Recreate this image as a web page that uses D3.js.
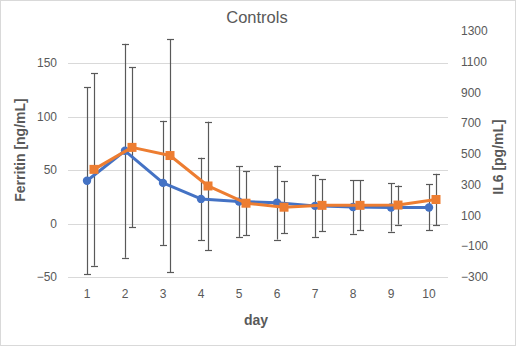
<!DOCTYPE html>
<html>
<head>
<meta charset="utf-8">
<script src="https://cdn.jsdelivr.net/npm/d3@7"></script>
<style>
  body { margin: 0; background: #fff; }
  svg text { font-family: "Liberation Sans", Arial, sans-serif; fill: #595959; }
</style>
</head>
<body>
<svg id="chart" width="516" height="346"></svg>
<script>
// chart data
var days = [1, 2, 3, 4, 5, 6, 7, 8, 9, 10];
var ferritin = [40, 68, 38, 23, 20.5, 19.5, 16.5, 15.5, 15, 15];
var ferritinErr = [87.5, 100, 58, 38.5, 33, 34.5, 29, 25, 22.5, 21.5];
var il6 = [400, 543, 490, 292, 180, 154, 166, 166, 168, 204];
var il6Err = [627, 521, 758, 418, 208, 168, 169, 163, 127, 167];
var leftTicks = [-50, 0, 50, 100, 150];
var rightTicks = [-300, -100, 100, 300, 500, 700, 900, 1100, 1300];

var margin = {top: 31, right: 68, bottom: 69, left: 68},
    width = 516, height = 346;

var svg = d3.select("svg#chart");

// outer chart border
svg.append("rect")
  .attr("x", 0.5).attr("y", 0.5)
  .attr("width", width - 1).attr("height", height - 1)
  .attr("fill", "#fff").attr("stroke", "#d9d9d9");

var x = d3.scalePoint().domain(days)
    .range([margin.left, width - margin.right]).padding(0.5);
// orange series sits a little to the right of the blue one
var x2 = d3.scalePoint().domain(days)
    .range([margin.left + 7, width - margin.right + 7]).padding(0.5);
var y = d3.scaleLinear().domain([-50, 180]).range([height - margin.bottom, margin.top]);
var y2 = d3.scaleLinear().domain([-300, 1300]).range([height - margin.bottom, margin.top]);

// gridlines
svg.append("g").selectAll("line").data(leftTicks).join("line")
  .attr("x1", margin.left).attr("x2", width - margin.right)
  .attr("y1", d => Math.round(y(d)) + 0.5).attr("y2", d => Math.round(y(d)) + 0.5)
  .attr("stroke", "#d9d9d9").attr("stroke-width", 1);

// left axis labels
svg.append("g").attr("font-size", 12).selectAll("text").data(leftTicks).join("text")
  .attr("x", 57).attr("y", d => y(d) + 4)
  .attr("text-anchor", "end")
  .text(d => d3.format("d")(d));

// right axis labels
svg.append("g").attr("font-size", 12).selectAll("text").data(rightTicks).join("text")
  .attr("x", 461).attr("y", d => y2(d) + 4)
  .attr("text-anchor", "start")
  .text(d => d3.format("d")(d));

// x labels
svg.append("g").attr("font-size", 12).selectAll("text").data(days).join("text")
  .attr("x", d => x(d)).attr("y", 298)
  .attr("text-anchor", "middle")
  .text(d => d);

// titles
svg.append("text").attr("x", 257).attr("y", 23).attr("text-anchor", "middle")
  .attr("font-size", 16.5).text("Controls");
svg.append("text").attr("x", 256).attr("y", 325).attr("text-anchor", "middle")
  .attr("font-size", 14).attr("font-weight", "bold").text("day");
svg.append("text").attr("transform", "translate(25,150) rotate(-90)")
  .attr("text-anchor", "middle").attr("font-size", 14).attr("font-weight", "bold")
  .text("Ferritin [ng/mL]");
svg.append("text").attr("transform", "translate(503,157) rotate(-90)")
  .attr("text-anchor", "middle").attr("font-size", 14).attr("font-weight", "bold")
  .text("IL6 [pg/mL]");

function errorBars(g, xs, ys, vals, errs) {
  var sel = g.selectAll("g").data(days).join("g");
  sel.append("line")
    .attr("x1", (d, i) => Math.round(xs(d)) + 0.5).attr("x2", (d, i) => Math.round(xs(d)) + 0.5)
    .attr("y1", (d, i) => ys(vals[i] + errs[i])).attr("y2", (d, i) => ys(vals[i] - errs[i]));
  [1, -1].forEach(function(s) {
    sel.append("line")
      .attr("x1", (d, i) => Math.round(xs(d)) - 3).attr("x2", (d, i) => Math.round(xs(d)) + 4)
      .attr("y1", (d, i) => Math.round(ys(vals[i] + s * errs[i])) + 0.5)
      .attr("y2", (d, i) => Math.round(ys(vals[i] + s * errs[i])) + 0.5);
  });
}

var eb = svg.append("g").attr("stroke", "#595959").attr("stroke-width", 1.2);
errorBars(eb.append("g"), x, y, ferritin, ferritinErr);
errorBars(eb.append("g"), x2, y2, il6, il6Err);

var blue = "#4472c4", orange = "#ed7d31";

svg.append("path")
  .datum(days)
  .attr("fill", "none").attr("stroke", blue).attr("stroke-width", 3)
  .attr("stroke-linejoin", "round")
  .attr("d", d3.line().x(d => x(d)).y((d, i) => y(ferritin[i])));
svg.append("g").selectAll("circle").data(days).join("circle")
  .attr("cx", d => x(d)).attr("cy", (d, i) => y(ferritin[i]))
  .attr("r", 4.2).attr("fill", blue);

svg.append("path")
  .datum(days)
  .attr("fill", "none").attr("stroke", orange).attr("stroke-width", 3)
  .attr("stroke-linejoin", "round")
  .attr("d", d3.line().x(d => x2(d)).y((d, i) => y2(il6[i])));
svg.append("g").selectAll("rect").data(days).join("rect")
  .attr("x", d => x2(d) - 4.5).attr("y", (d, i) => y2(il6[i]) - 4.5)
  .attr("width", 9).attr("height", 9).attr("fill", orange);
</script>
</body>
</html>
